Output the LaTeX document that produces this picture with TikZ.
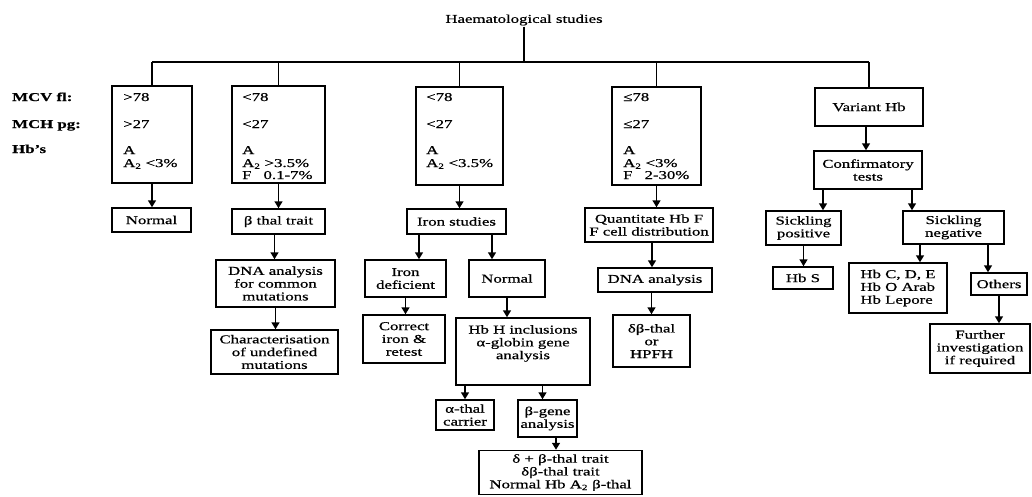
\documentclass[tikz,border=0pt]{standalone}
\usepackage{fontspec}
\setmainfont{Liberation Serif}[FakeStretch=1.4,FakeBold=0.6]
\usetikzlibrary{arrows.meta,calc}
\begin{document}
\begin{tikzpicture}[x=1pt,y=-1pt,
  font=\fontsize{12}{12.8}\selectfont,
  box/.style={draw, line width=1.5pt, align=center, inner sep=0pt},
  ln/.style={line width=1.5pt},
  arr/.style={line width=1.5pt, -{Triangle[width=8pt,length=7pt]}},
  row/.style={anchor=base west, inner sep=0pt},
  lab/.style={anchor=base west, inner sep=0pt, font=\fontsize{12}{12.8}\selectfont\bfseries}]
\fill[white] (0,0) rectangle (1032,496);
\useasboundingbox (0,0) rectangle (1032,496);

% title and bar
\node[inner sep=1pt] (title) at (524,20) {Haematological studies};
\coordinate (j) at (521,62);

% left labels
\node[lab] (l1) at (12,101) {MCV fl:};
\node[lab] (l2) at (12,128) {MCH pg:};
\node[lab] (l3) at (12,153) {Hb's};

% top boxes
\node[box, minimum width=80, minimum height=97] (b1) at (152,134.5) {};
\node[box, minimum width=93, minimum height=97] (b2) at (278.5,134.5) {};
\node[box, minimum width=87, minimum height=98] (b3) at (459.5,136) {};
\node[box, minimum width=89, minimum height=98] (b4) at (656.5,136) {};
\node[box, minimum width=108, minimum height=38] (variant) at (869,107) {Variant Hb};

% top box texts
\node[row] (b1a) at (123,101) {>78};
\node[row] (b1b) at (123,128) {>27};
\node[row] (b1c) at (123,154) {A};
\node[row] (b1d) at (123,167) {A\textsubscript{2} <3\%};

\node[row] (b2a) at (242,101) {<78};
\node[row] (b2b) at (242,128) {<27};
\node[row] (b2c) at (242,154) {A};
\node[row] (b2d) at (242,167) {A\textsubscript{2} >3.5\%};
\node[row] (b2e) at (242,179) {F\quad 0.1-7\%};

\node[row] (b3a) at (426,101) {<78};
\node[row] (b3b) at (426,128) {<27};
\node[row] (b3c) at (426,154) {A};
\node[row] (b3d) at (426,167) {A\textsubscript{2} <3.5\%};

\node[row] (b4a) at (623,101) {≤78};
\node[row] (b4b) at (623,128) {≤27};
\node[row] (b4c) at (623,154) {A};
\node[row] (b4d) at (623,167) {A\textsubscript{2} <3\%};
\node[row] (b4e) at (623,179) {F\quad 2-30\%};

% column 1
\node[box, minimum width=79, minimum height=24] (normal1) at (151.5,220) {Normal};
% column 2
\node[box, minimum width=93, minimum height=25] (bthal) at (278.5,221.5) {β thal trait};
\node[box, minimum width=119, minimum height=47] (dna1) at (275.5,283.5) {DNA analysis\\for common\\mutations};
\node[box, minimum width=127, minimum height=44] (charac) at (274.5,352) {Characterisation\\of undefined\\mutations};
% column 3
\node[box, minimum width=99, minimum height=25] (iron) at (456.5,221.5) {Iron studies};
\node[box, minimum width=81, minimum height=37] (irondef) at (405.5,278.5) {Iron\\deficient};
\node[box, minimum width=76, minimum height=37] (normal2) at (507,278.5) {Normal};
\node[box, minimum width=82, minimum height=48] (correct) at (404,339) {Correct\\iron \&\\retest};
\node[box, minimum width=134, minimum height=67] (hbh) at (523,351.5) {};
\node[align=center, inner sep=0pt, anchor=north] (hbht) at (523,325) {Hb H inclusions\\α-globin gene\\analysis};
\node[box, minimum width=58, minimum height=30] (alpha) at (465,415) {α-thal\\carrier};
\node[box, minimum width=59, minimum height=37] (bgene) at (547.5,418.5) {β-gene\\analysis};
\node[box, minimum width=163, minimum height=44] (dd) at (560.5,472.5) {δ + β-thal trait\\δβ-thal trait\\Normal Hb A\textsubscript{2} β-thal};
% column 4
\node[box, minimum width=128, minimum height=34] (quant) at (649,225) {Quantitate Hb F\\F cell distribution};
\node[box, minimum width=114, minimum height=24] (dna2) at (655,280) {DNA analysis};
\node[box, minimum width=77, minimum height=52] (dbthal) at (651.5,341) {δβ-thal\\or\\HPFH};
% column 5
\node[box, minimum width=108, minimum height=38] (confirm) at (868,170) {Confirmatory\\tests};
\node[box, minimum width=75, minimum height=34] (spos) at (803.5,228) {Sickling\\positive};
\node[box, minimum width=101, minimum height=33] (sneg) at (953.5,227.5) {Sickling\\negative};
\node[box, minimum width=60, minimum height=22] (hbs) at (803,278) {Hb S};
\node[box, minimum width=98, minimum height=50, align=left] (hbcde) at (898,288) {Hb C, D, E\\Hb O Arab\\Hb Lepore};
\node[box, minimum width=56, minimum height=22] (others) at (999,284) {Others};
\node[box, minimum width=100, minimum height=49] (further) at (980,348.5) {Further\\investigation\\if required};

% top tree
\draw[ln] (title.south) -- (title.south |- j);
\draw[ln] (b1.north |- j) -- (variant.north |- j);
\draw[ln] (b1.north |- j) -- (b1.north);
\draw[ln] (b2.north |- j) -- (b2.north);
\draw[ln] (b3.north |- j) -- (b3.north);
\draw[ln] (b4.north |- j) -- (b4.north);
\draw[ln] (variant.north |- j) -- (variant.north);

% arrows
\draw[arr] (b1.south) -- (b1.south |- normal1.north);
\draw[arr] (b2.south) -- (b2.south |- bthal.north);
\draw[arr] ([xshift=-4]bthal.south) -- ([xshift=-4]bthal.south |- dna1.north);
\draw[arr] (dna1.south) -- (dna1.south |- charac.north);
\draw[arr] (b3.south) -- (b3.south |- iron.north);
\draw[arr] ([xshift=13.5]irondef.north |- iron.south) -- ([xshift=13.5]irondef.north);
\draw[arr] ([xshift=-15]normal2.north |- iron.south) -- ([xshift=-15]normal2.north);
\draw[arr] (irondef.south) -- (irondef.south |- correct.north);
\draw[arr] (normal2.south) -- (normal2.south |- hbh.north);
\draw[arr] (alpha.north |- hbh.south) -- (alpha.north);
\draw[arr] ([xshift=-5]bgene.north |- hbh.south) -- ([xshift=-5]bgene.north);
\draw[arr] ([xshift=8.5]bgene.south) -- ([xshift=8.5]bgene.south |- dd.north);
\draw[arr] (b4.south) -- (b4.south |- quant.north);
\draw[arr] ([xshift=3]quant.south) -- ([xshift=3]quant.south |- dna2.north);
\draw[arr] (dbthal.north |- dna2.south) -- (dbthal.north);
\draw[arr] ([xshift=-3]variant.south) -- ([xshift=-3]variant.south |- confirm.north);
\draw[arr] ([xshift=19.5]spos.north |- confirm.south) -- ([xshift=19.5]spos.north);
\draw[arr] ([xshift=-41.5]sneg.north |- confirm.south) -- ([xshift=-41.5]sneg.north);
\draw[arr] (spos.south) -- (spos.south |- hbs.north);
\draw[arr] ([xshift=22]hbcde.north |- sneg.south) -- ([xshift=22]hbcde.north);
\draw[arr] ([xshift=-11]others.north |- sneg.south) -- ([xshift=-11]others.north);
\draw[arr] (others.south) -- (others.south |- further.north);
\end{tikzpicture}
\end{document}
